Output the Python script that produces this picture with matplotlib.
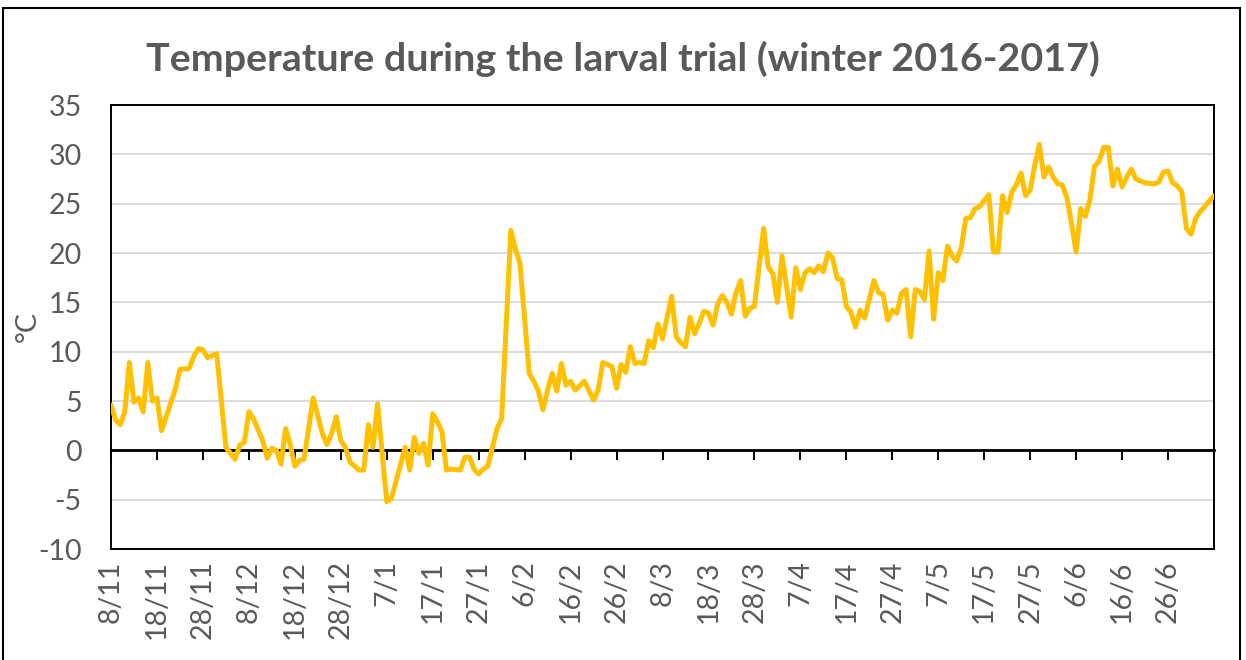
# Temperature during the larval trial (winter 2016-2017)

import matplotlib.pyplot as plt
from matplotlib.patches import Rectangle

# days after 8/11/2016 and temperature (degC)
days = [0, 1, 2, 3, 4, 5, 6, 7, 8, 9, 10, 11, 14, 15, 17, 18, 19, 20, 21, 23,
        25, 27, 28, 29, 30, 31, 33, 34, 35, 36, 37, 38, 39, 40, 41, 42, 44, 46,
        47, 48, 49, 50, 51, 52, 54, 55, 56, 57, 58, 60, 61, 64, 65, 66, 67, 68,
        69, 70, 71, 72, 73, 74, 76, 77, 78, 79, 80, 81, 82, 84, 85, 87, 88, 89,
        91, 92, 93, 94, 95, 96, 97, 98, 99, 100, 101, 103, 105, 106, 107, 108,
        109, 110, 111, 112, 113, 114, 115, 116, 117, 118, 119, 120, 122, 123,
        124, 125, 126, 127, 128, 129, 130, 131, 132, 133, 134, 135, 136, 137,
        138, 139, 140, 142, 143, 144, 145, 146, 148, 149, 150, 151, 152, 153,
        154, 155, 156, 157, 158, 159, 160, 161, 162, 163, 164, 166, 167, 168,
        169, 170, 171, 172, 173, 174, 175, 176, 177, 178, 179, 180, 181, 182,
        183, 184, 185, 186, 187, 188, 189, 190, 191, 192, 193, 194, 195, 196,
        197, 198, 199, 200, 201, 202, 203, 204, 205, 206, 207, 208, 209, 210,
        211, 212, 213, 214, 215, 216, 217, 218, 219, 220, 221, 222, 223, 225,
        227, 228, 229, 230, 231, 232, 233, 234, 235, 236, 237, 238, 239, 240]
temps = [4.6, 3.1, 2.6, 3.9, 8.9, 4.9, 5.3, 3.9, 8.9, 5.0, 5.3, 2.0, 6.2, 8.2,
         8.3, 9.5, 10.3, 10.2, 9.4, 9.8, 0.3, -0.9, 0.5, 0.8, 3.9, 3.2, 1.0,
         -0.8, 0.2, 0.0, -1.4, 2.2, 0.6, -1.6, -1.0, -0.9, 5.3, 1.7, 0.6, 1.7,
         3.4, 1.0, 0.3, -1.2, -2.0, -2.0, 2.6, 0.3, 4.7, -5.2, -4.9, 0.3, -2.0,
         1.3, -0.3, 0.7, -1.5, 3.7, 2.9, 1.9, -2.0, -1.9, -2.0, -0.7, -0.7,
         -1.9, -2.4, -1.9, -1.6, 2.2, 3.2, 22.3, 20.4, 18.9, 7.8, 7.0, 6.0, 4.1,
         6.1, 7.8, 6.0, 8.8, 6.6, 7.0, 6.1, 7.0, 5.1, 6.1, 8.9, 8.7, 8.5, 6.3,
         8.7, 7.9, 10.5, 8.8, 8.9, 8.8, 11.1, 10.4, 12.8, 11.3, 15.6, 11.5,
         10.9, 10.5, 13.5, 11.8, 12.9, 14.1, 13.9, 12.7, 14.8, 15.7, 15.0, 13.8,
         16.0, 17.2, 13.6, 14.4, 14.6, 22.5, 18.6, 17.9, 15.0, 19.7, 13.5, 18.5,
         16.3, 18.0, 18.4, 18.0, 18.7, 18.1, 20.0, 19.5, 17.4, 17.3, 14.6, 14.0,
         12.5, 14.2, 13.4, 17.2, 16.0, 15.8, 13.2, 14.2, 13.9, 15.9, 16.3, 11.5,
         16.3, 16.1, 15.3, 20.2, 13.3, 18.0, 17.2, 20.7, 19.7, 19.2, 20.5, 23.5,
         23.6, 24.5, 24.7, 25.3, 25.9, 20.1, 20.1, 25.8, 24.1, 26.2, 26.9, 28.1,
         25.8, 26.4, 28.9, 31.0, 27.7, 28.7, 27.7, 27.0, 26.9, 25.6, 23.0, 20.1,
         24.5, 23.7, 25.4, 28.8, 29.3, 30.7, 30.7, 26.8, 28.5, 26.7, 27.7, 28.5,
         27.5, 27.1, 27.0, 27.2, 28.2, 28.3, 27.1, 26.8, 26.2, 22.5, 21.9, 23.5,
         24.2, 24.7, 25.3, 25.8]

tick_labels = ['8/11', '18/11', '28/11', '8/12', '18/12', '28/12', '7/1', '17/1',
               '27/1', '6/2', '16/2', '26/2', '8/3', '18/3', '28/3', '7/4',
               '17/4', '27/4', '7/5', '17/5', '27/5', '6/6', '16/6', '26/6']
tick_days = [10 * i for i in range(len(tick_labels))]

grey = '#595959'
plt.rcParams['font.family'] = ['Lato', 'DejaVu Sans']
plt.rcParams['axes.unicode_minus'] = False

fig = plt.figure(figsize=(12.46, 6.6), dpi=100)
ax = fig.add_axes([111 / 1246, 1 - 549 / 660, 1103 / 1246, 444 / 660])

ax.plot(days, temps, color='#FFC000', linewidth=3.6, solid_joinstyle='round',
        solid_capstyle='round', zorder=3)

ax.set_xlim(0, 240)
ax.set_ylim(-10, 35)
ax.set_yticks(range(-10, 36, 5))
ax.grid(axis='y', color='#D9D9D9', linewidth=1.3, zorder=0)
ax.set_axisbelow(True)

# x axis crosses at 0, labels at the bottom
ax.spines['bottom'].set_position(('data', 0))
ax.spines['bottom'].set_linewidth(2.0)
ax.spines['bottom'].set_zorder(2)
for s in ['left', 'right', 'top']:
    ax.spines[s].set_linewidth(1.4)
ax.plot([0, 1], [0, 0], transform=ax.transAxes, color='black', lw=1.4,
        clip_on=False)

ax.set_xticks(tick_days)
ax.set_xticklabels(tick_labels, rotation=90, rotation_mode='anchor',
                   ha='right', va='center')
ax.tick_params(axis='x', direction='out', length=7.2, width=1.4, pad=72,
               labelsize=20.5, labelcolor=grey)
ax.tick_params(axis='y', length=0, pad=21, labelsize=20.5, labelcolor=grey)

fig.text(28 / 1246, 1 - 327 / 660, '°C', rotation=90, ha='center',
         va='center', fontsize=20.5, color=grey)
fig.text(0.5, 1 - 71 / 660, 'Temperature during the larval trial (winter 2016-2017)',
         ha='center', va='baseline', fontsize=28.4, fontweight='bold', color=grey)

# outer chart border
fig.add_artist(Rectangle((3 / 1246, -0.1), 1237 / 1246, 1.1 - 8 / 660,
                         transform=fig.transFigure, fill=False,
                         edgecolor='black', linewidth=1.5))

fig.savefig('out.png', dpi=100)
